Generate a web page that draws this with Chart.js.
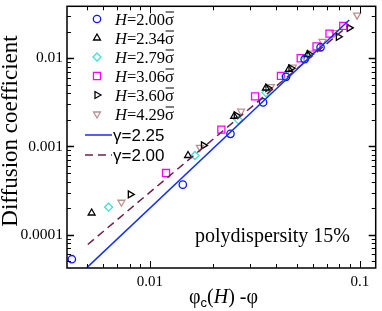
<!DOCTYPE html>
<html>
<head>
<meta charset="utf-8">
<script src="https://cdn.jsdelivr.net/npm/chart.js@4.4.1/dist/chart.umd.min.js"></script>
<style>
  html, body { margin: 0; padding: 0; background: #fff; }
  #wrap { width: 382px; height: 311px; }
</style>
</head>
<body>
<div id="wrap"><canvas id="chart"></canvas></div>
<script>
// data
const h200X = [0.00425, 0.01435, 0.0242, 0.0346, 0.0445, 0.0546, 0.065];
const h200Y = [5.27e-5, 3.69e-4, 1.39e-3, 3.16e-3, 6.15e-3, 9.75e-3, 0.0133];
const h234X = [0.00528, 0.0152, 0.0252, 0.0357, 0.0459, 0.0564];
const h234Y = [1.76e-4, 7.9e-4, 2.2e-3, 4.6e-3, 7.5e-3, 0.0110];
const h279X = [0.00636, 0.0164, 0.0264, 0.0357, 0.0445, 0.0555];
const h279Y = [2.05e-4, 7.9e-4, 2.0e-3, 4.08e-3, 6.3e-3, 0.0102];
const h306X = [0.01194, 0.0219, 0.0317, 0.0421, 0.0523, 0.0622, 0.0717, 0.0834];
const h306Y = [5.0e-4, 1.55e-3, 3.69e-3, 6.31e-3, 0.0100, 0.0136, 0.0190, 0.0233];
const h360X = [0.00807, 0.0180, 0.0258, 0.0365, 0.0470, 0.0575, 0.079, 0.089];
const h360Y = [2.86e-4, 1.03e-3, 2.25e-3, 4.6e-3, 7.7e-3, 0.0111, 0.0175, 0.0221];
const h429X = [0.00732, 0.0173, 0.0272, 0.0377, 0.048, 0.0583, 0.0664, 0.0757, 0.097];
const h429Y = [2.33e-4, 9.75e-4, 2.51e-3, 4.76e-3, 7.94e-3, 0.0114, 0.0155, 0.0195, 0.0308];

const fit225X = [0.0050, 0.089];
const fit225Y = [4.2e-5, 0.0271];
const fit200X = [0.00506, 0.089];
const fit200Y = [7.74e-5, 0.0239];

const seriesH = ['2.00', '2.34', '2.79', '3.06', '3.60', '4.29'];
const xTickVals = [0.01, 0.1];
const xTickLabels = ['0.01', '0.1'];
const yTickVals = [0.0001, 0.001, 0.01];
const yTickLabels = ['0.0001', '0.001', '0.01'];

const SERIF = '"Liberation Serif", "DejaVu Serif", serif';
const SANS = '"Liberation Sans", Arial, sans-serif';

function pts(xs, ys) {
  return xs.map((x, i) => ({ x: x, y: ys[i] }));
}

// marker styles per series
const markers = [
  { color: '#0a14ff', style: 'circle', rot: 0, r: 3.7 },
  { color: '#000000', style: 'triangle', rot: 0, r: 4 },
  { color: '#3fe0d0', style: 'rectRot', rot: 0, r: 4 },
  { color: '#ff00ff', style: 'rect', rot: 0, r: 5 },
  { color: '#000000', style: 'triangle', rot: 90, r: 4 },
  { color: '#bc8f8f', style: 'triangle', rot: 180, r: 4 }
];
const seriesData = [
  pts(h200X, h200Y), pts(h234X, h234Y), pts(h279X, h279Y),
  pts(h306X, h306Y), pts(h360X, h360Y), pts(h429X, h429Y)
];

const datasets = [
  {
    type: 'line', label: 'γ=2.25', data: pts(fit225X, fit225Y),
    borderColor: '#1530f0', borderWidth: 1.5, pointRadius: 0, fill: false
  },
  {
    type: 'line', label: 'γ=2.00', data: pts(fit200X, fit200Y),
    borderColor: '#6e1f4c', borderWidth: 1.5, borderDash: [8, 5], pointRadius: 0, fill: false
  }
];
seriesData.forEach((d, i) => {
  const m = markers[i];
  datasets.push({
    type: 'scatter', label: 'H=' + seriesH[i], data: d,
    borderColor: m.color, backgroundColor: 'rgba(0,0,0,0)',
    pointStyle: m.style, pointRotation: m.rot, pointRadius: m.r,
    pointBorderWidth: 1.3, pointHoverRadius: m.r
  });
});

// inward ticks on all four sides, frame, legend and titles
const decorPlugin = {
  id: 'decor',
  afterDraw(chart) {
    const ctx = chart.ctx;
    const ca = chart.chartArea;
    const xs = chart.scales.x, ys = chart.scales.y;
    ctx.save();
    ctx.strokeStyle = '#000';
    ctx.lineWidth = 1;
    for (let d = -5; d <= 0; d++) {
      for (let m = 1; m <= 9; m++) {
        const v = m * Math.pow(10, d);
        const len = m === 1 ? 7 : 4;
        if (v > xs.min && v < xs.max) {
          const px = Math.round(xs.getPixelForValue(v)) + 0.5;
          ctx.beginPath();
          ctx.moveTo(px, ca.bottom); ctx.lineTo(px, ca.bottom - len);
          ctx.moveTo(px, ca.top); ctx.lineTo(px, ca.top + len);
          ctx.stroke();
        }
        if (v > ys.min && v < ys.max) {
          const py = Math.round(ys.getPixelForValue(v)) + 0.5;
          ctx.lineWidth = m === 1 ? 1.5 : 1;
          ctx.beginPath();
          ctx.moveTo(ca.left, py); ctx.lineTo(ca.left + len, py);
          ctx.moveTo(ca.right, py); ctx.lineTo(ca.right - len, py);
          ctx.stroke();
          ctx.lineWidth = 1;
        }
      }
    }
    ctx.lineWidth = 1.5;
    ctx.strokeRect(ca.left, ca.top, ca.right - ca.left, ca.bottom - ca.top);

    // legend
    const mx = 97, tx = 115;
    ctx.fillStyle = '#000';
    ctx.textBaseline = 'alphabetic';
    ctx.textAlign = 'left';
    seriesH.forEach((h, i) => {
      const y = 19 + i * 19;
      const m = markers[i];
      ctx.strokeStyle = m.color;
      ctx.fillStyle = 'rgba(0,0,0,0)';
      ctx.lineWidth = 1.3;
      Chart.helpers.drawPoint(ctx, { pointStyle: m.style, rotation: m.rot, radius: m.r, borderWidth: 1.3 }, mx, y);
      ctx.fillStyle = '#000';
      const base = y + 5.5;
      let x = tx;
      ctx.font = 'italic 16.5px ' + SERIF;
      ctx.fillText('H', x, base);
      x += ctx.measureText('H').width;
      ctx.font = '16.5px ' + SERIF;
      const s = '=' + h;
      ctx.fillText(s, x, base);
      x += ctx.measureText(s).width;
      ctx.fillText('σ', x, base);
      const sw = ctx.measureText('σ').width;
      ctx.strokeStyle = '#000';
      ctx.lineWidth = 1;
      ctx.beginPath();
      ctx.moveTo(x + 0.5, base - 12.5); ctx.lineTo(x + sw, base - 12.5);
      ctx.stroke();
    });
    const lineRows = [
      { label: 'γ=2.25', color: '#1530f0', dash: [] },
      { label: 'γ=2.00', color: '#6e1f4c', dash: [8, 5] }
    ];
    lineRows.forEach((r, i) => {
      const y = 135 + i * 20;
      ctx.strokeStyle = r.color;
      ctx.lineWidth = 1.5;
      ctx.setLineDash(r.dash);
      ctx.beginPath();
      ctx.moveTo(85, y); ctx.lineTo(112, y);
      ctx.stroke();
      ctx.setLineDash([]);
      ctx.fillStyle = '#000';
      ctx.font = '17px ' + SANS;
      ctx.fillText(r.label, 113, y + 6);
    });

    // annotation
    ctx.font = '20px ' + SERIF;
    ctx.fillStyle = '#000';
    ctx.textAlign = 'left';
    ctx.fillText('polydispersity 15%', 195, 242);

    // y title
    ctx.save();
    ctx.translate(11, 131);
    ctx.rotate(-Math.PI / 2);
    ctx.textAlign = 'center';
    ctx.textBaseline = 'middle';
    ctx.font = '23px ' + SERIF;
    ctx.fillText('Diffusion coefficient', 0, 0);
    ctx.restore();

    // x title: φc(H) -φ
    let x = 189;
    const b = 303;
    ctx.textAlign = 'left';
    ctx.font = '20px ' + SERIF;
    ctx.fillText('φ', x, b);
    x += ctx.measureText('φ').width;
    ctx.font = '13px ' + SANS;
    ctx.fillText('c', x, b + 4);
    x += ctx.measureText('c').width;
    ctx.font = '20px ' + SERIF;
    ctx.fillText('(', x, b);
    x += ctx.measureText('(').width;
    ctx.font = 'italic 20px ' + SERIF;
    ctx.fillText('H', x, b);
    x += ctx.measureText('H').width;
    ctx.font = '20px ' + SERIF;
    ctx.fillText(') -φ', x, b);
    ctx.restore();
  }
};

new Chart(document.getElementById('chart'), {
  data: { datasets: datasets },
  options: {
    responsive: true,
    maintainAspectRatio: false,
    animation: false,
    devicePixelRatio: 1,
    layout: { padding: { top: 1, right: 3, left: 0, bottom: 0 } },
    plugins: { legend: { display: false }, tooltip: { enabled: false } },
    scales: {
      x: {
        type: 'logarithmic',
        min: 0.00403, max: 0.119,
        grid: { display: false, drawTicks: false },
        border: { display: false },
        afterBuildTicks: (s) => { s.ticks = xTickVals.map(v => ({ value: v })); },
        afterFit: (s) => { s.height = 43; s.paddingLeft = 0; s.paddingRight = 0; },
        ticks: {
          autoSkip: false, maxRotation: 0, padding: 5,
          color: '#000', font: { family: SERIF, size: 15 },
          callback: (v, i) => xTickLabels[i]
        }
      },
      y: {
        type: 'logarithmic',
        min: 4.19e-5, max: 0.0388,
        grid: { display: false, drawTicks: false },
        border: { display: false },
        afterBuildTicks: (s) => { s.ticks = yTickVals.map(v => ({ value: v })); },
        afterFit: (s) => { s.width = 67; s.paddingTop = 0; s.paddingBottom = 0; },
        ticks: {
          autoSkip: false, padding: 4,
          color: '#000', font: { family: SERIF, size: 15.5 },
          callback: (v, i) => yTickLabels[i]
        }
      }
    }
  },
  plugins: [decorPlugin]
});
</script>
</body>
</html>
